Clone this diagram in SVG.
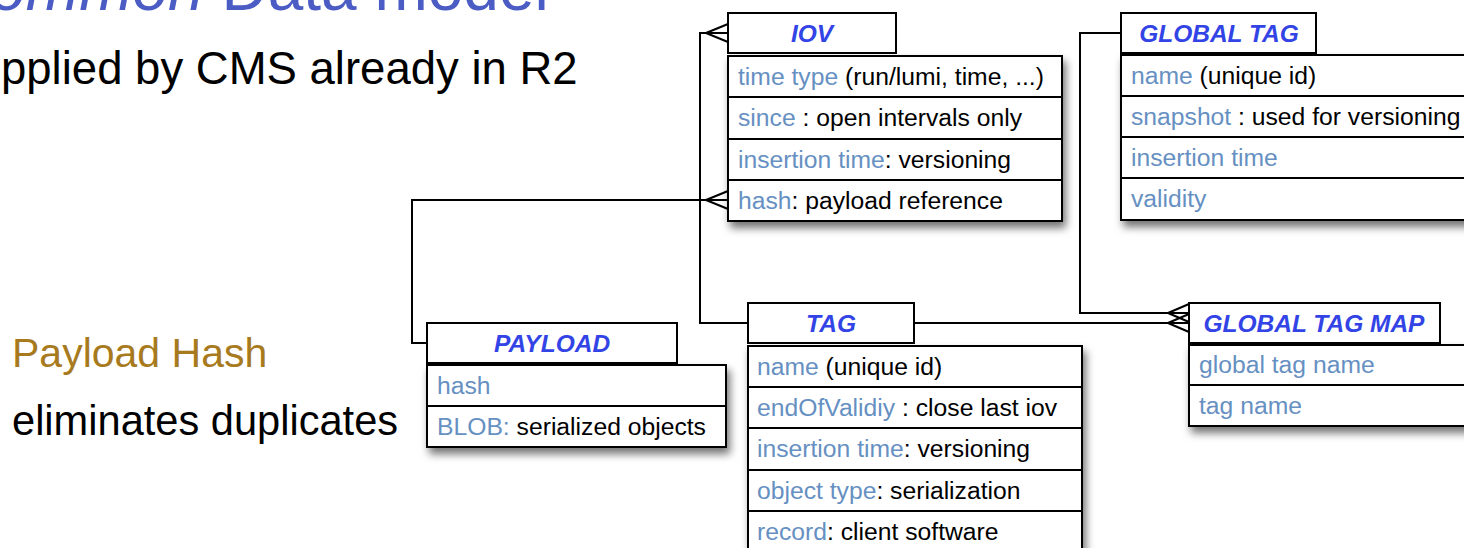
<svg xmlns="http://www.w3.org/2000/svg" width="1464" height="548" viewBox="0 0 1464 548">
<defs>
<filter id="sh" x="-10%" y="-10%" width="130%" height="140%">
<feDropShadow dx="3" dy="6" stdDeviation="4" flood-color="#000" flood-opacity="0.55"/>
</filter>
<style>
.box{fill:#fff;stroke:#000;stroke-width:2}
.div{stroke:#000;stroke-width:2}
.ttl{font-family:"Liberation Sans",Arial,sans-serif;font-size:24.5px;font-weight:bold;font-style:italic;fill:#3344e6;text-anchor:middle}
.row{font-family:"Liberation Sans",Arial,sans-serif;font-size:24.7px;fill:#000}
.k{fill:#6690c2}
.con{fill:none;stroke:#000;stroke-width:2}
.big{font-family:"Liberation Sans",Arial,sans-serif}
</style>
</defs>
<rect width="1464" height="548" fill="#fff"/>
<text class="big" x="-56" y="10" font-size="64" fill="#4b5cc4"><tspan font-style="italic">Common</tspan> Data model</text>
<text class="big" x="1" y="84" font-size="45.5" fill="#000">pplied by CMS already in R2</text>
<text class="big" x="12" y="367" font-size="41" fill="#a87a1e">Payload Hash</text>
<text class="big" x="12" y="435" font-size="41.6" fill="#000">eliminates duplicates</text>

<g id="connectors">
<polyline class="con" points="748,323 700,323 700,33 728,33"/>
<path class="con" d="M706,33 L728,24 M706,33 L728,42"/>
<polyline class="con" points="427,343 412,343 412,200 728,200"/>
<path class="con" d="M706,200 L728,191 M706,200 L728,209"/>
<polyline class="con" points="1121,33 1080,33 1080,313 1189,313"/>
<path class="con" d="M1168,313 L1189,304 M1168,313 L1189,322"/>
<line class="con" x1="914" y1="323" x2="1189" y2="323"/>
<path class="con" d="M1168,323 L1189,314 M1168,323 L1189,332"/>
</g>

<g id="iov">
<rect class="box" x="728" y="13" width="168" height="40"/>
<text class="ttl" x="812" y="42">IOV</text>
<rect class="box" x="728" y="56" width="334" height="165" filter="url(#sh)"/>
<path class="div" d="M728,97H1062M728,139H1062M728,180H1062"/>
<text class="row" x="738" y="85"><tspan class="k">time type</tspan> (run/lumi, time, ...)</text>
<text class="row" x="738" y="126"><tspan class="k">since</tspan> : open intervals only</text>
<text class="row" x="738" y="168"><tspan class="k">insertion time</tspan>: versioning</text>
<text class="row" x="738" y="209"><tspan class="k">hash</tspan>: payload reference</text>
</g>

<g id="global_tag">
<rect class="box" x="1121" y="13" width="195" height="40"/>
<text class="ttl" x="1219" y="42">GLOBAL TAG</text>
<rect class="box" x="1121" y="55" width="360" height="165" filter="url(#sh)"/>
<path class="div" d="M1121,96H1481M1121,137H1481M1121,178H1481"/>
<text class="row" x="1131" y="84"><tspan class="k">name</tspan> (unique id)</text>
<text class="row" x="1131" y="125"><tspan class="k">snapshot</tspan> : used for versioning</text>
<text class="row" x="1131" y="166"><tspan class="k">insertion time</tspan></text>
<text class="row" x="1131" y="207"><tspan class="k">validity</tspan></text>
</g>

<g id="payload">
<rect class="box" x="427" y="323" width="250" height="40"/>
<text class="ttl" x="552" y="352">PAYLOAD</text>
<rect class="box" x="427" y="365" width="299" height="82" filter="url(#sh)"/>
<path class="div" d="M427,406H726"/>
<text class="row" x="437" y="394"><tspan class="k">hash</tspan></text>
<text class="row" x="437" y="435"><tspan class="k">BLOB:</tspan> serialized objects</text>
</g>

<g id="tag">
<rect class="box" x="748" y="303" width="166" height="40"/>
<text class="ttl" x="831" y="332">TAG</text>
<rect class="box" x="748" y="346" width="334" height="210" filter="url(#sh)"/>
<path class="div" d="M748,387H1082M748,428H1082M748,470H1082M748,511H1082"/>
<text class="row" x="757" y="375"><tspan class="k">name</tspan> (unique id)</text>
<text class="row" x="757" y="416"><tspan class="k">endOfValidiy</tspan> : close last iov</text>
<text class="row" x="757" y="457"><tspan class="k">insertion time</tspan>: versioning</text>
<text class="row" x="757" y="499"><tspan class="k">object type</tspan>: serialization</text>
<text class="row" x="757" y="540"><tspan class="k">record</tspan>: client software</text>
</g>

<g id="global_tag_map">
<rect class="box" x="1189" y="303" width="251" height="40"/>
<text class="ttl" x="1314" y="332">GLOBAL TAG MAP</text>
<rect class="box" x="1189" y="345" width="300" height="81" filter="url(#sh)"/>
<path class="div" d="M1189,385H1489"/>
<text class="row" x="1199" y="373"><tspan class="k">global tag name</tspan></text>
<text class="row" x="1199" y="414"><tspan class="k">tag name</tspan></text>
</g>
</svg>
